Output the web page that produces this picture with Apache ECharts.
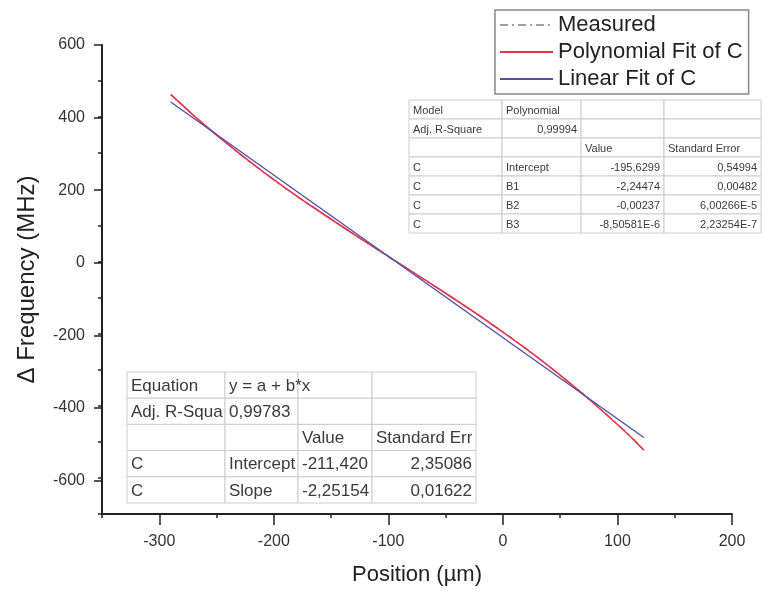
<!DOCTYPE html>
<html>
<head>
<meta charset="utf-8">
<script src="https://cdn.jsdelivr.net/npm/echarts@6/dist/echarts.min.js"></script>
<style>
  html, body { margin: 0; padding: 0; background: #fff; }
  #chart { width: 763px; height: 591px; }
</style>
</head>
<body>
<div id="chart"></div>
<script>
// values
var polyX = [-290, -250, -200, -150, -100, -50, 0, 50, 100, 123];
var polyY = [463, 350, 227, 117, 14, -88, -196, -315, -452, -523];
var measuredY = [462, 351, 226, 118, 13, -89, -195, -316, -451, -522];
var linearX = [-290, 123];
var linearY = [442, -488];

var xTicks = [-300, -200, -100, 0, 100, 200];
var yTicks = [-600, -400, -200, 0, 200, 400, 600];

// fit result tables (text only)
var polyTable = [
  ['Model', 'Polynomial', '', ''],
  ['Adj. R-Square', '0,99994', '', ''],
  ['', '', 'Value', 'Standard Error'],
  ['C', 'Intercept', '-195,6299', '0,54994'],
  ['C', 'B1', '-2,24474', '0,00482'],
  ['C', 'B2', '-0,00237', '6,00266E-5'],
  ['C', 'B3', '-8,50581E-6', '2,23254E-7']
];
var polyAlign = [
  ['left', 'left', 'left', 'left'],
  ['left', 'right', 'left', 'left'],
  ['left', 'left', 'left', 'left'],
  ['left', 'left', 'right', 'right'],
  ['left', 'left', 'right', 'right'],
  ['left', 'left', 'right', 'right'],
  ['left', 'left', 'right', 'right']
];
var linTable = [
  ['Equation', 'y = a + b*x', '', ''],
  ['Adj. R-Squa', '0,99783', '', ''],
  ['', '', 'Value', 'Standard Err'],
  ['C', 'Intercept', '-211,420', '2,35086'],
  ['C', 'Slope', '-2,25154', '0,01622']
];
var linAlign = [
  ['left', 'left', 'left', 'left'],
  ['left', 'left', 'left', 'left'],
  ['left', 'left', 'left', 'left'],
  ['left', 'left', 'left', 'right'],
  ['left', 'left', 'left', 'right']
];

function pairs(xs, ys) {
  var out = [];
  for (var i = 0; i < xs.length; i++) out.push([xs[i], ys[i]]);
  return out;
}

var fontFam = 'Liberation Sans, Arial, sans-serif';

// builds table cells as graphic elements
function makeTable(rows, aligns, colX, top, rowH, fontSize, pad) {
  var els = [];
  for (var r = 0; r < rows.length; r++) {
    for (var c = 0; c < colX.length - 1; c++) {
      var x0 = colX[c], x1 = colX[c + 1];
      var y0 = top + r * rowH;
      els.push({
        type: 'rect',
        shape: { x: x0, y: y0, width: x1 - x0, height: rowH },
        style: { fill: '#fff', stroke: '#cccccc', lineWidth: 1 },
        z: 50
      });
    }
  }
  // text after all cells so overflowing text stays visible
  for (var r2 = 0; r2 < rows.length; r2++) {
    for (var c2 = 0; c2 < colX.length - 1; c2++) {
      var t = rows[r2][c2];
      if (!t) continue;
      var al = aligns[r2][c2];
      els.push({
        type: 'text',
        style: {
          text: t,
          x: al === 'right' ? colX[c2 + 1] - pad : colX[c2] + pad,
          y: top + r2 * rowH + rowH / 2 + 1,
          align: al,
          verticalAlign: 'middle',
          fontSize: fontSize,
          fontFamily: fontFam,
          fill: '#3a3a3a'
        },
        z: 51
      });
    }
  }
  return els;
}

var axisCol = '#222';

// pixel layout of the plot area
var gLeft = 102, gRight = 31, gTop = 45, gBottom = 74;
var yMin = -700, yMax = 600, xMin = -350, xMax = 200;
var plotH = 591 - gTop - gBottom;
var plotW = 763 - gLeft - gRight;
var yMajorBottom = 591 - (gTop + (yMax - yTicks[0]) / (yMax - yMin) * plotH);
var xMajorLeft = gLeft + (xTicks[0] - xMin) / (xMax - xMin) * plotW;

var chart = echarts.init(document.getElementById('chart'));
var option = {
  animation: false,
  backgroundColor: '#fff',
  textStyle: { fontFamily: fontFam },
  grid: [
    { left: gLeft, right: gRight, top: gTop, bottom: gBottom },
    { left: gLeft, right: gRight, top: gTop, bottom: yMajorBottom },
    { left: xMajorLeft, right: gRight, top: gTop, bottom: gBottom }
  ],
  legend: {
    orient: 'vertical',
    left: 495,
    top: 10,
    padding: [4, 6, 4, 4],
    itemGap: 5,
    itemWidth: 53,
    itemHeight: 14,
    borderColor: '#888',
    borderWidth: 1.5,
    borderRadius: 0,
    backgroundColor: '#fff',
    itemStyle: { opacity: 0 },
    textStyle: { fontSize: 22, color: '#222', fontFamily: fontFam },
    data: ['Measured', 'Polynomial Fit of C', 'Linear Fit of C']
  },
  xAxis: [
    {
      gridIndex: 0, type: 'value', min: xMin, max: xMax, interval: 50,
      name: 'Position (\u00b5m)', nameLocation: 'middle', nameGap: 50,
      nameTextStyle: { fontSize: 22, color: '#222' },
      axisLine: { onZero: false, lineStyle: { color: axisCol, width: 2 } },
      axisTick: { length: 4, lineStyle: { color: axisCol, width: 1.5 } },
      axisLabel: { show: false },
      splitLine: { show: false }
    },
    {
      gridIndex: 1, type: 'value', min: xMin, max: xMax, show: false
    },
    {
      gridIndex: 2, type: 'value', min: xTicks[0], max: xTicks[xTicks.length - 1], interval: 100,
      axisLine: { show: false, onZero: false },
      axisTick: { length: 8, lineStyle: { color: axisCol, width: 1.5 } },
      axisLabel: { fontSize: 16, color: '#333', margin: 17 },
      splitLine: { show: false }
    }
  ],
  yAxis: [
    {
      gridIndex: 0, type: 'value', min: yMin, max: yMax, interval: 100,
      name: '\u0394 Frequency (MHz)', nameLocation: 'middle', nameGap: 63,
      nameTextStyle: { fontSize: 24, color: '#222' },
      axisLine: { onZero: false, lineStyle: { color: axisCol, width: 2 } },
      axisTick: { length: 4, lineStyle: { color: axisCol, width: 1.5 } },
      axisLabel: { show: false },
      splitLine: { show: false }
    },
    {
      gridIndex: 1, type: 'value', min: yTicks[0], max: yTicks[yTicks.length - 1], interval: 200,
      axisLine: { show: false, onZero: false },
      axisTick: { length: 8, lineStyle: { color: axisCol, width: 1.5 } },
      axisLabel: { fontSize: 16, color: '#333', margin: 17 },
      splitLine: { show: false }
    },
    {
      gridIndex: 2, type: 'value', min: yMin, max: yMax, show: false
    }
  ],
  series: [
    {
      name: 'Measured', type: 'line', xAxisIndex: 0, yAxisIndex: 0,
      data: pairs(polyX, measuredY), smooth: true, symbol: 'none',
      lineStyle: { color: '#a0a0a0', width: 1.5, type: [8, 4, 2, 4] },
      itemStyle: { color: '#a0a0a0' }, z: 2
    },
    {
      name: 'Polynomial Fit of C', type: 'line', xAxisIndex: 0, yAxisIndex: 0,
      data: pairs(polyX, polyY), smooth: true, symbol: 'none',
      lineStyle: { color: '#e8344a', width: 1.6 },
      itemStyle: { color: '#e8344a' }, z: 3
    },
    {
      name: 'Linear Fit of C', type: 'line', xAxisIndex: 0, yAxisIndex: 0,
      data: pairs(linearX, linearY), symbol: 'none',
      lineStyle: { color: '#5050a8', width: 1.4 },
      itemStyle: { color: '#5050a8' }, z: 4
    }
  ],
  graphic: [].concat(
    makeTable(polyTable, polyAlign, [409, 502, 581, 664, 761], 100, 19, 11, 4),
    makeTable(linTable, linAlign, [127, 225, 298, 372, 476], 372, 26.2, 17, 4)
  )
};
chart.setOption(option);
</script>
</body>
</html>
